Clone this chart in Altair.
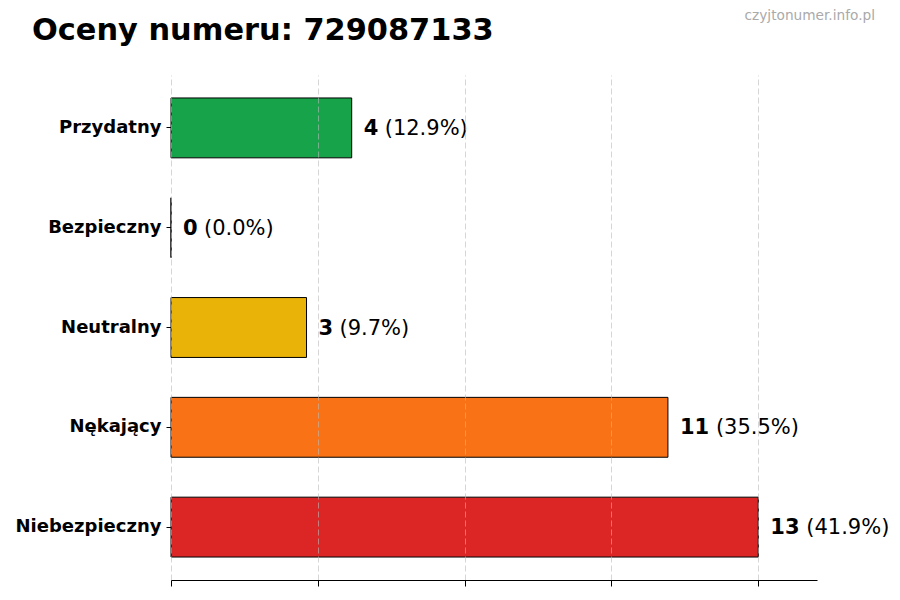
import altair as alt
import pandas as pd

categories = ["Przydatny", "Bezpieczny", "Neutralny", "Nękający", "Niebezpieczny"]
counts = [4, 0, 3, 11, 13]
colors = ["#16a34a", "#2563eb", "#eab308", "#f97316", "#dc2626"]
x_ticks = [0, 3.25, 6.5, 9.75, 13]
x_max = 14.3
title_text = "Oceny numeru: 729087133"
watermark = "czyjtonumer.info.pl"

df = pd.DataFrame({"category": categories, "count": counts})

base = alt.Chart(df).transform_joinaggregate(
    total="sum(count)"
).transform_calculate(
    pct="'(' + format(datum.count / datum.total * 100, '.1f') + '%)'"
)

x = alt.X(
    "count:Q",
    scale=alt.Scale(domain=[0, x_max], nice=False, zero=True),
    axis=alt.Axis(
        values=x_ticks, labels=False, title=None, grid=True,
        gridDash=[6, 3], gridColor="#bbbbbb", gridOpacity=0.6, gridWidth=1,
        domainColor="black", domainWidth=1, tickColor="black", tickSize=6,
        tickWidth=1, zindex=1,
    ),
)
y = alt.Y(
    "category:N",
    sort=categories,
    scale=alt.Scale(paddingInner=0.4, paddingOuter=0.23),
    axis=alt.Axis(
        title=None, domain=False, grid=False, labelFontWeight="bold",
        labelFontSize=18, labelColor="black", labelFont="DejaVu Sans",
        tickColor="black", tickSize=5, labelPadding=5,
    ),
)

bars = base.mark_bar(stroke="black", strokeWidth=1).encode(
    x=x, y=y,
    color=alt.Color("category:N", scale=alt.Scale(domain=categories, range=colors), legend=None),
)

nums = base.mark_text(
    align="left", baseline="middle", dx=12, dy=1, fontSize=21, fontWeight="bold",
    color="black", font="DejaVu Sans",
).encode(x=x, y=y, text="count:Q")

pct1 = base.transform_filter("datum.count < 10").mark_text(
    align="left", baseline="middle", dx=33, dy=1, fontSize=21, color="black", font="DejaVu Sans",
).encode(x=x, y=y, text="pct:N")

pct2 = base.transform_filter("datum.count >= 10").mark_text(
    align="left", baseline="middle", dx=48, dy=1, fontSize=21, color="black", font="DejaVu Sans",
).encode(x=x, y=y, text="pct:N")

title = alt.Chart(pd.DataFrame({"t": [title_text]})).mark_text(
    align="left", baseline="alphabetic", fontSize=30.4, fontWeight="bold",
    color="black", font="DejaVu Sans",
).encode(x=alt.value(-139), y=alt.value(-35), text="t:N")

wm = alt.Chart(pd.DataFrame({"t": [watermark]})).mark_text(
    align="right", baseline="alphabetic", fontSize=13.7, color="#aaaaaa", font="DejaVu Sans",
).encode(x=alt.value(704), y=alt.value(-55), text="t:N")

chart = alt.layer(bars, nums, pct1, pct2, title, wm).properties(
    width=646, height=505,
    autosize=alt.AutoSizeParams(type="none"),
    padding={"left": 163, "top": 67, "right": 75, "bottom": 12},
).configure(font="DejaVu Sans").configure_view(strokeWidth=0, strokeOpacity=0)

chart.save("out.html", embed_options={"renderer": "svg", "actions": False})
